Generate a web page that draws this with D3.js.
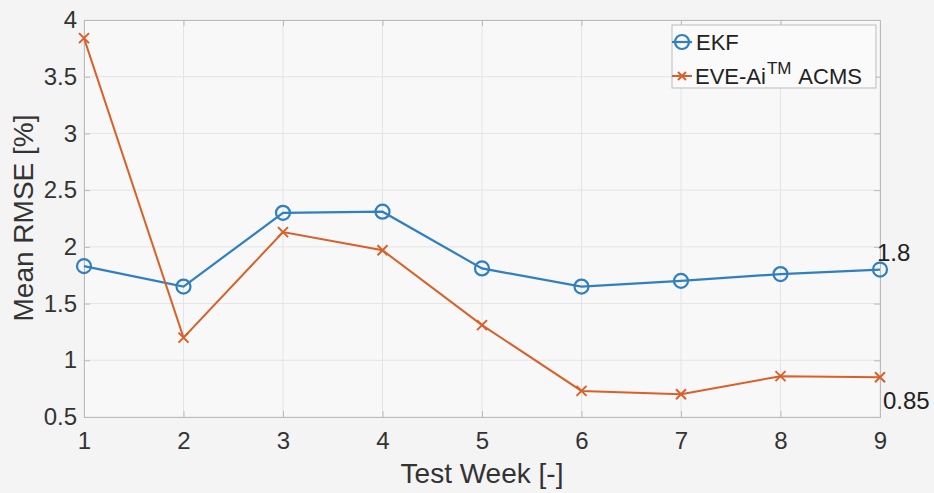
<!DOCTYPE html>
<html><head><meta charset="utf-8">
<script src="https://cdn.jsdelivr.net/npm/d3@7"></script>
<style>body{margin:0;background:#f4f4f4;}svg{display:block;font-family:"Liberation Sans",Arial,sans-serif;}</style>
</head><body><svg id="c" width="934" height="493"></svg>
<script>
const weeks = [1,2,3,4,5,6,7,8,9];
const ekf = [1.83,1.65,2.30,2.31,1.81,1.65,1.70,1.76,1.80];
const eve = [3.84,1.20,2.13,1.97,1.31,0.73,0.70,0.86,0.85];
const yTicks = [0.5,1,1.5,2,2.5,3,3.5,4];
const xTicks = [1,2,3,4,5,6,7,8,9];
const seriesNames = ["EKF","EVE-Ai"];
const annotations = [{w:9,v:1.8,text:"1.8"},{w:9,v:0.85,text:"0.85"}];

const svg = d3.select("#c");
const L=84,R=880,T=20,B=417;
const x = d3.scaleLinear().domain([1,9]).range([L,R]);
const y = d3.scaleLinear().domain([0.5,4]).range([B,T]);
const blue="#2f7fc1", orange="#d9602a", txt="#333";
const FF="Liberation Sans, Arial, sans-serif";

svg.append("rect").attr("x",0).attr("y",0).attr("width",934).attr("height",493).attr("fill","#f4f4f4");
svg.append("rect").attr("x",L).attr("y",T).attr("width",R-L).attr("height",B-T).attr("fill","#f8f8f8");

// grid
const g = svg.append("g");
g.selectAll(".gx").data(xTicks).join("line").attr("x1",d=>x(d)).attr("x2",d=>x(d)).attr("y1",T).attr("y2",B).attr("stroke","#e4e4e4").attr("stroke-width",1);
g.selectAll(".gy").data(yTicks).join("line").attr("x1",L).attr("x2",R).attr("y1",d=>y(d)).attr("y2",d=>y(d)).attr("stroke","#e4e4e4").attr("stroke-width",1);

// axes
const xa = svg.append("g").attr("transform",`translate(0,${B})`).call(d3.axisBottom(x).tickValues(xTicks).tickSize(-6).tickPadding(15).tickFormat(d3.format("d")));
const ya = svg.append("g").attr("transform",`translate(${L},0)`).call(d3.axisLeft(y).tickValues(yTicks).tickSize(-6).tickPadding(7).tickFormat(d=>String(d)));
const xt = svg.append("g").attr("transform",`translate(0,${T})`).call(d3.axisTop(x).tickValues(xTicks).tickSize(-6).tickFormat(""));
const yr = svg.append("g").attr("transform",`translate(${R},0)`).call(d3.axisRight(y).tickValues(yTicks).tickSize(-6).tickFormat(""));
[xa,ya,xt,yr].forEach(a=>{a.select(".domain").attr("stroke","#bbb");a.selectAll(".tick line").attr("stroke","#bbb");a.selectAll("text").attr("fill",txt).attr("font-size",24).attr("font-family",FF);});
xa.selectAll("text").attr("dy","0.71em");

// labels
svg.append("text").attr("x",(L+R)/2).attr("y",483).attr("text-anchor","middle").attr("font-size",28).attr("fill",txt).text("Test Week [-]");
svg.append("text").attr("transform","translate(33,218) rotate(-90)").attr("text-anchor","middle").attr("font-size",28).attr("fill",txt).text("Mean RMSE [%]");

// lines
const line = d3.line().x((d,i)=>x(weeks[i])).y(d=>y(d));
svg.append("path").datum(ekf).attr("d",line).attr("fill","none").attr("stroke",blue).attr("stroke-width",2.2);
svg.append("path").datum(eve).attr("d",line).attr("fill","none").attr("stroke",orange).attr("stroke-width",2);
svg.selectAll(".ce").data(ekf).join("circle").attr("cx",(d,i)=>x(weeks[i])).attr("cy",d=>y(d)).attr("r",7).attr("fill","none").attr("stroke",blue).attr("stroke-width",2.2);
function cross(gsel,cx,cy,col,s){gsel.append("path").attr("d",`M${cx-s},${cy-s}L${cx+s},${cy+s}M${cx-s},${cy+s}L${cx+s},${cy-s}`).attr("stroke",col).attr("stroke-width",2).attr("fill","none");}
const mg=svg.append("g");
eve.forEach((d,i)=>cross(mg,x(weeks[i]),y(d),orange,5));

// annotations
svg.append("text").attr("x",x(annotations[0].w)-3).attr("y",y(annotations[0].v)-9).attr("font-size",24).attr("fill","#222").text(annotations[0].text);
svg.append("text").attr("x",x(annotations[1].w)+3).attr("y",y(annotations[1].v)+32).attr("font-size",24).attr("fill","#222").text(annotations[1].text);

// legend
const lg = svg.append("g");
lg.append("rect").attr("x",672).attr("y",25).attr("width",204).attr("height",63).attr("fill","#fafafa").attr("stroke","#bbb").attr("stroke-width",1);
lg.append("line").attr("x1",672).attr("x2",692).attr("y1",42).attr("y2",42).attr("stroke",blue).attr("stroke-width",2.2);
lg.append("circle").attr("cx",682).attr("cy",42).attr("r",7).attr("fill","none").attr("stroke",blue).attr("stroke-width",2.2);
lg.append("text").attr("x",696).attr("y",50).attr("font-size",22).attr("fill","#222").text(seriesNames[0]);
lg.append("line").attr("x1",672).attr("x2",692).attr("y1",76).attr("y2",76).attr("stroke",orange).attr("stroke-width",2);
cross(lg,682,76,orange,4);
const t2 = lg.append("text").attr("x",695).attr("y",84).attr("font-size",22).attr("fill","#222");
t2.append("tspan").text(seriesNames[1]);
t2.append("tspan").attr("font-size",17).attr("dy",-10).attr("dx",1).text("TM");
t2.append("tspan").attr("dy",10).attr("dx",2).text(" ACMS");
</script></body></html>
